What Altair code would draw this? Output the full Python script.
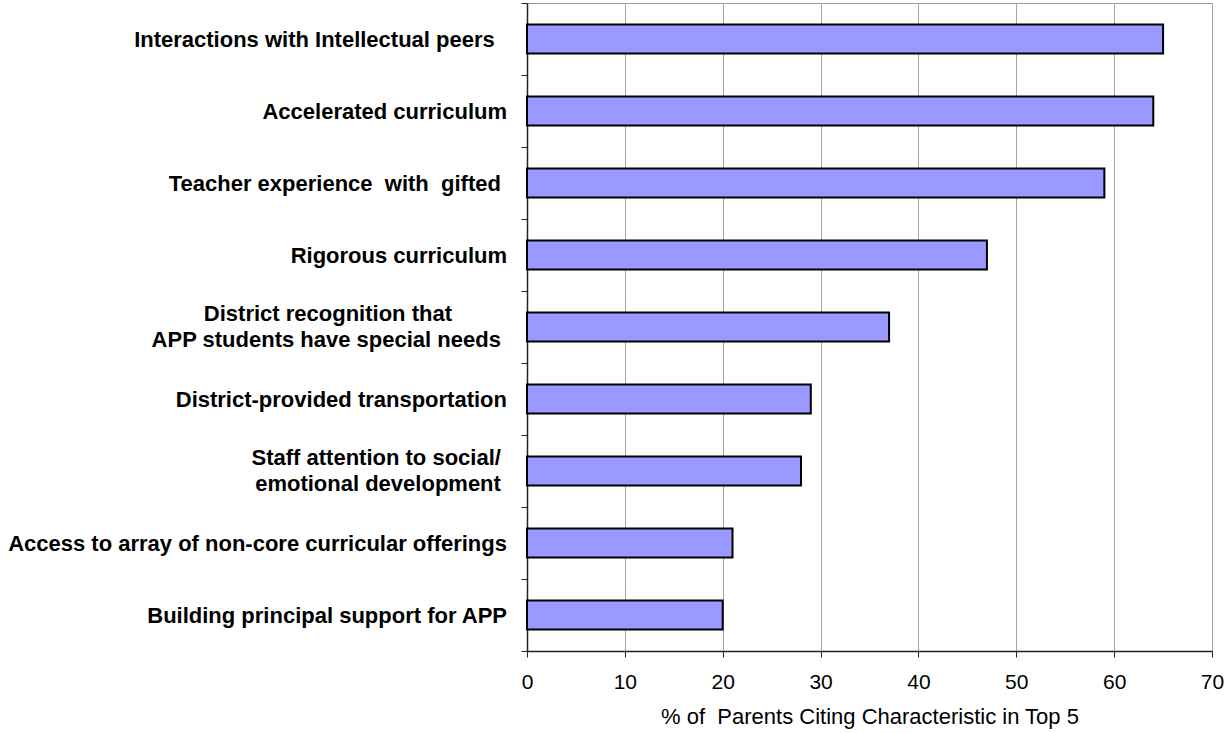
import altair as alt
import pandas as pd

NB = "\u00a0"   # non-breaking space: keeps doubled/trailing spacing
END = "\u200b"  # zero-width space so trailing spacing is not trimmed away


def pad(text, n):
    return text + NB * n + END


# Survey items (top to bottom); "|" marks a line break in the axis label
items = [
    pad("Interactions with Intellectual peers", 2),
    "Accelerated curriculum",
    pad("Teacher experience " + NB + "with " + NB + "gifted", 1),
    "Rigorous curriculum",
    pad("District recognition that", 9) + "|" + pad("APP students have special needs", 1),
    "District-provided transportation",
    pad("Staff attention to social/", 1) + "|" + pad("emotional development", 1),
    "Access to array of non-core curricular offerings",
    "Building principal support for APP",
]

# Percent of parents citing each characteristic in their top 5
pct = [65, 64, 59, 47, 37, 29, 28, 21, 20]

x_ticks = [0, 10, 20, 30, 40, 50, 60, 70]
x_title = "% of " + NB + "Parents Citing Characteristic in Top 5"

df = pd.DataFrame({"item": items, "pct": pct})

FONT = "Liberation Sans"
AXIS_DARK = "#222222"
LINE_H = 26.5

x_enc = alt.X(
    "pct:Q",
    scale=alt.Scale(domain=[0, 70], nice=False, zero=True),
    axis=alt.Axis(
        values=x_ticks,
        title=x_title,
        titleFont=FONT,
        titleFontSize=22,
        titleFontWeight="normal",
        titleColor="#000000",
        titlePadding=14,
        labelFont=FONT,
        labelFontSize=21,
        labelColor="#000000",
        labelPadding=14,
        labelFlush=False,
        domainColor=AXIS_DARK,
        domainWidth=1.5,
        tickColor=AXIS_DARK,
        tickSize=6,
        tickWidth=1,
        grid=True,
        gridColor="#A6A6A6",
        gridWidth=1,
    ),
)

y_scale = alt.Scale(paddingInner=0, paddingOuter=0)
label_style = dict(
    labelFont=FONT,
    labelFontSize=22,
    labelFontWeight="bold",
    labelColor="#000000",
    labelLineHeight=LINE_H,
    labelLimit=0,
)

# Bars with the axis that carries the one-line labels, domain and ticks
bars = (
    alt.Chart(df)
    .mark_bar(color="#9999FF", stroke="#000000", strokeWidth=2, height=29)
    .encode(
        x=x_enc,
        y=alt.Y(
            "item:N",
            sort=items,
            scale=y_scale,
            axis=alt.Axis(
                title=None,
                orient="left",
                tickBand="extent",
                labelExpr="indexof(datum.label, '|') >= 0 ? '' : datum.label",
                labelPadding=14.5,
                domainColor=AXIS_DARK,
                domainWidth=1.5,
                tickColor=AXIS_DARK,
                tickSize=6,
                tickWidth=1,
                grid=False,
                **label_style,
            ),
        ),
    )
)

# Second left axis for the two-line labels, shifted up half a line so
# each two-line block is centred on its bar
two_line = (
    alt.Chart(df)
    .mark_bar(opacity=0, height=29)
    .encode(
        x=x_enc,
        y=alt.Y(
            "item:N",
            sort=items,
            scale=y_scale,
            axis=alt.Axis(
                title=None,
                orient="left",
                labelExpr="indexof(datum.label, '|') >= 0 ? split(datum.label, '|') : ''",
                labelOffset=-LINE_H / 2,
                labelPadding=20.5,
                domain=False,
                ticks=False,
                grid=False,
                **label_style,
            ),
        ),
    )
)

chart = (
    alt.layer(bars, two_line)
    .resolve_scale(y="shared")
    .resolve_axis(y="independent")
    .properties(
        width=685,
        height=648,
        autosize=alt.AutoSizeParams(type="none"),
        padding={"left": 527, "top": 3, "right": 13, "bottom": 82},
        background="#FFFFFF",
    )
    .configure_view(stroke="#999999", strokeWidth=1)
)

chart.save("out.html", embed_options={"renderer": "svg", "actions": False})
